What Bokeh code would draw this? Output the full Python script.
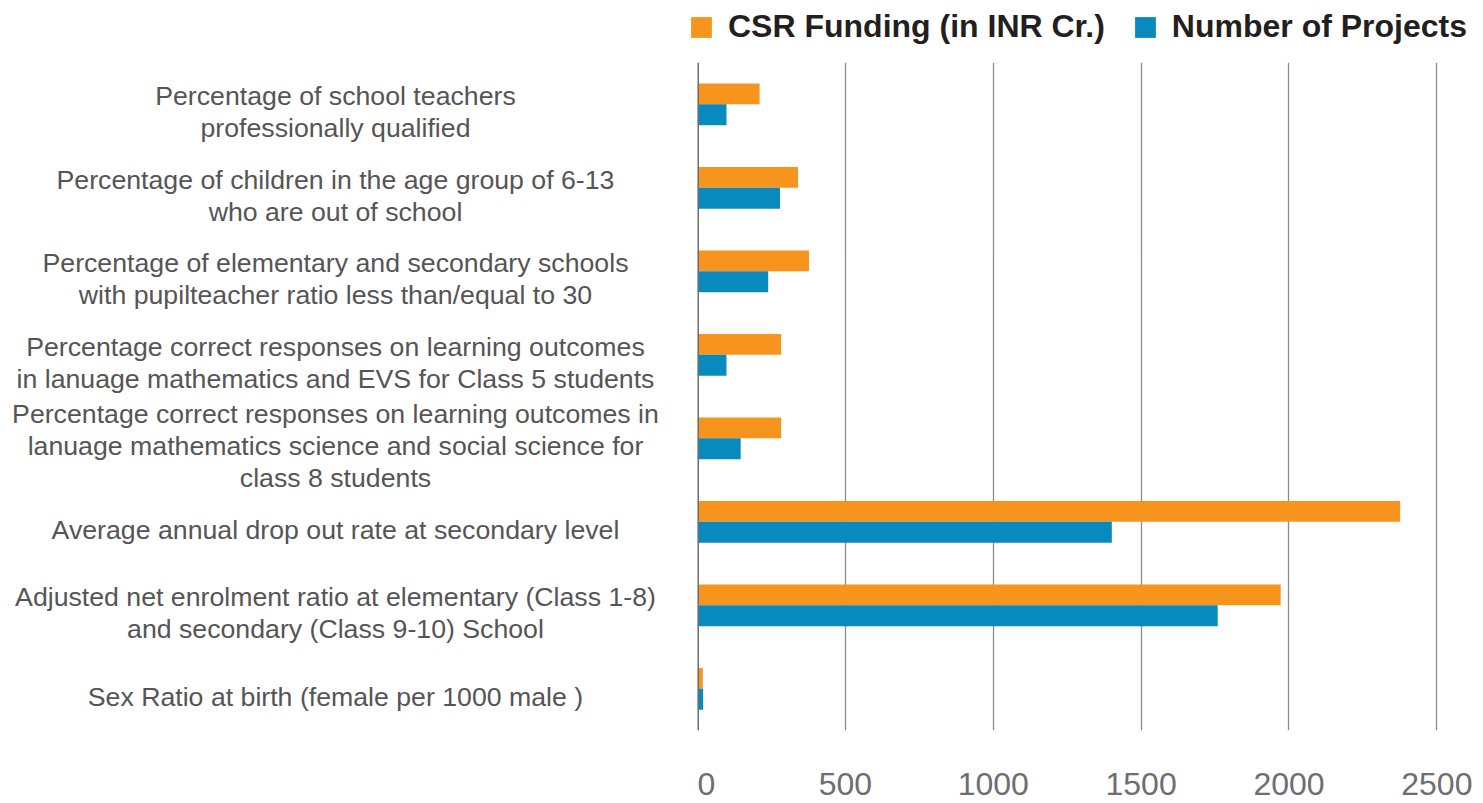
from bokeh.plotting import figure
from bokeh.layouts import row, column
from bokeh.models import ColumnDataSource, FactorRange, Range1d, Span, Legend, LegendItem, FixedTicker
from bokeh.transform import dodge
from bokeh.core.properties import value
from bokeh.embed import file_html
from bokeh.resources import INLINE

categories = [
    "Percentage of school teachers\nprofessionally qualified",
    "Percentage of children in the age group of 6-13\nwho are out of school",
    "Percentage of elementary and secondary schools\nwith pupilteacher ratio less than/equal to 30",
    "Percentage correct responses on learning outcomes\nin lanuage mathematics and EVS for Class 5 students",
    "Percentage correct responses on learning outcomes in\nlanuage mathematics science and social science for\nclass 8 students",
    "Average annual drop out rate at secondary level",
    "Adjusted net enrolment ratio at elementary (Class 1-8)\nand secondary (Class 9-10) School",
    "Sex Ratio at birth (female per 1000 male )",
]
csr_funding = [210, 340, 377, 283, 283, 2376, 1972, 18]
num_projects = [98, 279, 239, 98, 146, 1401, 1759, 19]
x_ticks = [0, 500, 1000, 1500, 2000, 2500]
series_names = ["CSR Funding (in INR Cr.)", "Number of Projects"]

ORANGE = "#f7941e"
BLUE = "#088abe"
FONT = "Liberation Sans"

source = ColumnDataSource(dict(cat=categories, csr=csr_funding, proj=num_projects))
y_range = FactorRange(factors=list(reversed(categories)), range_padding=0)

TOP = 10
FRAME_H = 668
BOTTOM = 72
H = TOP + FRAME_H + BOTTOM

# ---- legend strip (renderers hidden; only their legend swatches are shown) ----
leg = figure(width=1475, height=52, x_range=Range1d(0, 1),
             y_range=FactorRange(factors=list(reversed(categories))),
             output_backend="svg", toolbar_location=None,
             x_axis_location=None, y_axis_location=None,
             min_border=0, outline_line_color=None)
leg.xgrid.visible = False
leg.ygrid.visible = False
lr1 = leg.hbar(y="cat", right="csr", height=0.25, source=source,
               fill_color=ORANGE, line_color=None, visible=False)
lr2 = leg.hbar(y="cat", right="proj", height=0.25, source=source,
               fill_color=BLUE, line_color=None, visible=False)
legend = Legend(items=[LegendItem(label=series_names[0], renderers=[lr1]),
                       LegendItem(label=series_names[1], renderers=[lr2])],
                orientation="horizontal", location="top_right",
                label_text_font=FONT, label_text_font_style="bold",
                label_text_font_size="32px", label_text_color="#231f20",
                glyph_width=26, glyph_height=26, spacing=27, label_standoff=14,
                padding=0, margin=8, border_line_alpha=0, background_fill_alpha=0,
                inactive_fill_alpha=0, click_policy="none")
leg.add_layout(legend, "center")

# ---- label panel ----
lab = figure(width=697, height=H, y_range=y_range, x_range=Range1d(0, 1),
             output_backend="svg", toolbar_location=None,
             x_axis_location=None, y_axis_location=None,
             min_border_left=0, min_border_right=0,
             min_border_top=TOP, min_border_bottom=BOTTOM,
             outline_line_color=None)
lab.xgrid.visible = False
lab.ygrid.visible = False
lab.text(x=0.4806, y="cat", text="cat", source=source,
         text_align="center", text_baseline="middle", y_offset=8,
         text_font=value(FONT), text_font_size="26.7px", text_color="#555555",
         text_line_height=1.07)

# ---- bar panel ----
p = figure(width=778, height=H, y_range=y_range, x_range=Range1d(0, 2580),
           output_backend="svg", toolbar_location=None,
           y_axis_location=None,
           min_border_left=0, min_border_right=15,
           min_border_top=TOP, min_border_bottom=BOTTOM,
           outline_line_color=None)

p.hbar(y=dodge("cat", 0.125, range=p.y_range), right="csr", left=0, height=0.25,
       source=source, fill_color=ORANGE, line_color=None)
p.hbar(y=dodge("cat", -0.125, range=p.y_range), right="proj", left=0, height=0.25,
       source=source, fill_color=BLUE, line_color=None)

p.ygrid.visible = False
p.xgrid.grid_line_color = "#8c8c8c"
p.xgrid.grid_line_width = 1.3
p.xaxis.ticker = FixedTicker(ticks=x_ticks)
p.xaxis.axis_line_color = None
p.xaxis.major_tick_line_color = None
p.xaxis.minor_tick_line_color = None
p.xaxis.major_label_standoff = 36
p.xaxis.major_label_text_font = FONT
p.xaxis.major_label_text_font_size = "32px"
p.xaxis.major_label_text_color = "#6d6e71"

p.add_layout(Span(location=0, dimension="height", line_color="#6d6e71", line_width=3))

layout = column(leg, row(lab, p))
open("out.html", "w").write(file_html(layout, INLINE))
